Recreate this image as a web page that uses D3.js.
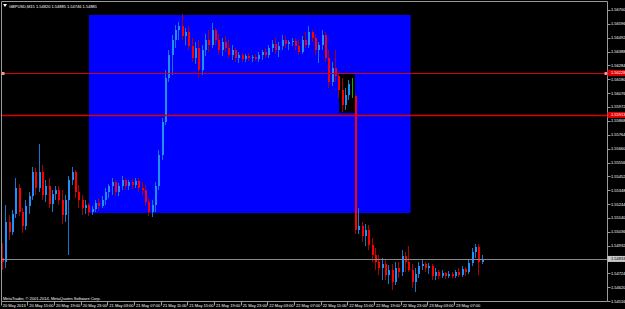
<!DOCTYPE html>
<html>
<head>
<meta charset="utf-8">
<script src="https://cdn.jsdelivr.net/npm/d3@7"></script>
<style>
  html, body { margin: 0; padding: 0; background: #000; }
  svg { display: block; font-family: "Liberation Sans", Arial, sans-serif; }
</style>
</head>
<body>
<svg id="chart" width="625" height="309"></svg>
<script>
// GBPUSD M15, candles merged to 30 min slots: [open, high, low, close]
const symbol = "GBPUSD,M15";
const headerQuote = ["1.54820", "1.54885", "1.54746", "1.54881"];
const copyright = "MetaTrader, \u00a9 2001-2014, MetaQuotes Software Corp.";

const ohlc = [
  [1.54840, 1.54953, 1.54750, 1.54810],
  [1.54810, 1.55238, 1.54765, 1.55110],
  [1.55110, 1.55163, 1.54975, 1.55035],
  [1.55035, 1.55200, 1.55013, 1.55170],
  [1.55170, 1.55440, 1.55140, 1.55365],
  [1.55365, 1.55395, 1.55155, 1.55185],
  [1.55185, 1.55215, 1.55028, 1.55080],
  [1.55080, 1.55275, 1.55050, 1.55230],
  [1.55230, 1.55335, 1.55170, 1.55305],
  [1.55305, 1.55523, 1.55275, 1.55485],
  [1.55485, 1.55515, 1.55313, 1.55365],
  [1.55365, 1.55698, 1.55335, 1.55485],
  [1.55485, 1.55538, 1.55275, 1.55313],
  [1.55313, 1.55425, 1.55260, 1.55380],
  [1.55380, 1.55440, 1.55215, 1.55245],
  [1.55245, 1.55350, 1.55185, 1.55320],
  [1.55320, 1.55380, 1.55275, 1.55350],
  [1.55350, 1.55380, 1.55238, 1.55275],
  [1.55275, 1.55350, 1.55095, 1.55163],
  [1.55163, 1.55313, 1.55110, 1.55275],
  [1.55275, 1.55455, 1.54863, 1.55425],
  [1.55425, 1.55523, 1.55388, 1.55485],
  [1.55485, 1.55500, 1.55290, 1.55335],
  [1.55335, 1.55388, 1.55215, 1.55275],
  [1.55275, 1.55313, 1.55163, 1.55215],
  [1.55215, 1.55275, 1.55170, 1.55238],
  [1.55238, 1.55253, 1.55155, 1.55185],
  [1.55185, 1.55230, 1.55163, 1.55208],
  [1.55208, 1.55275, 1.55185, 1.55253],
  [1.55253, 1.55290, 1.55200, 1.55230],
  [1.55230, 1.55305, 1.55215, 1.55275],
  [1.55275, 1.55365, 1.55238, 1.55335],
  [1.55335, 1.55395, 1.55290, 1.55380],
  [1.55380, 1.55440, 1.55313, 1.55410],
  [1.55410, 1.55425, 1.55305, 1.55335],
  [1.55335, 1.55403, 1.55305, 1.55380],
  [1.55380, 1.55455, 1.55350, 1.55425],
  [1.55425, 1.55440, 1.55350, 1.55380],
  [1.55380, 1.55425, 1.55350, 1.55410],
  [1.55410, 1.55433, 1.55358, 1.55388],
  [1.55388, 1.55440, 1.55365, 1.55418],
  [1.55418, 1.55440, 1.55335, 1.55365],
  [1.55365, 1.55410, 1.55313, 1.55350],
  [1.55350, 1.55388, 1.55230, 1.55260],
  [1.55260, 1.55290, 1.55155, 1.55185],
  [1.55185, 1.55275, 1.55148, 1.55238],
  [1.55238, 1.55410, 1.55185, 1.55380],
  [1.55380, 1.55650, 1.55350, 1.55613],
  [1.55613, 1.55890, 1.55575, 1.55860],
  [1.55860, 1.56250, 1.55838, 1.56190],
  [1.56190, 1.56400, 1.56160, 1.56363],
  [1.56363, 1.56513, 1.56213, 1.56475],
  [1.56475, 1.56588, 1.56415, 1.56550],
  [1.56550, 1.56610, 1.56475, 1.56580],
  [1.56580, 1.56670, 1.56475, 1.56505],
  [1.56505, 1.56565, 1.56438, 1.56535],
  [1.56535, 1.56580, 1.56400, 1.56430],
  [1.56430, 1.56490, 1.56310, 1.56340],
  [1.56340, 1.56460, 1.56295, 1.56415],
  [1.56415, 1.56475, 1.56190, 1.56250],
  [1.56250, 1.56438, 1.56213, 1.56400],
  [1.56400, 1.56520, 1.56355, 1.56475],
  [1.56475, 1.56550, 1.56385, 1.56438],
  [1.56438, 1.56603, 1.56415, 1.56550],
  [1.56550, 1.56565, 1.56438, 1.56475],
  [1.56475, 1.56520, 1.56363, 1.56400],
  [1.56400, 1.56490, 1.56355, 1.56460],
  [1.56460, 1.56505, 1.56385, 1.56415],
  [1.56415, 1.56475, 1.56340, 1.56363],
  [1.56363, 1.56438, 1.56325, 1.56400],
  [1.56400, 1.56415, 1.56310, 1.56340],
  [1.56340, 1.56385, 1.56303, 1.56363],
  [1.56363, 1.56378, 1.56310, 1.56333],
  [1.56333, 1.56370, 1.56310, 1.56355],
  [1.56355, 1.56378, 1.56318, 1.56340],
  [1.56340, 1.56363, 1.56310, 1.56348],
  [1.56348, 1.56370, 1.56318, 1.56333],
  [1.56333, 1.56385, 1.56310, 1.56363],
  [1.56363, 1.56400, 1.56325, 1.56385],
  [1.56385, 1.56415, 1.56340, 1.56363],
  [1.56363, 1.56438, 1.56340, 1.56415],
  [1.56415, 1.56475, 1.56385, 1.56445],
  [1.56445, 1.56490, 1.56370, 1.56400],
  [1.56400, 1.56460, 1.56348, 1.56430],
  [1.56430, 1.56513, 1.56400, 1.56475],
  [1.56475, 1.56505, 1.56415, 1.56445],
  [1.56445, 1.56475, 1.56400, 1.56460],
  [1.56460, 1.56490, 1.56430, 1.56468],
  [1.56468, 1.56490, 1.56400, 1.56430],
  [1.56430, 1.56475, 1.56363, 1.56385],
  [1.56385, 1.56505, 1.56370, 1.56475],
  [1.56475, 1.56535, 1.56415, 1.56438],
  [1.56438, 1.56580, 1.56415, 1.56535],
  [1.56535, 1.56550, 1.56460, 1.56490],
  [1.56490, 1.56520, 1.56363, 1.56400],
  [1.56400, 1.56460, 1.56303, 1.56438],
  [1.56438, 1.56550, 1.56400, 1.56513],
  [1.56513, 1.56535, 1.56310, 1.56340],
  [1.56340, 1.56400, 1.56115, 1.56160],
  [1.56160, 1.56310, 1.56130, 1.56265],
  [1.56265, 1.56400, 1.56160, 1.56205],
  [1.56205, 1.56220, 1.56040, 1.56100],
  [1.56100, 1.56190, 1.55935, 1.55988],
  [1.55988, 1.56115, 1.55950, 1.56063],
  [1.56063, 1.56175, 1.56025, 1.56145],
  [1.56145, 1.56190, 1.56040, 1.56055],
  [1.56055, 1.56070, 1.55020, 1.55050],
  [1.55050, 1.55215, 1.55020, 1.55080],
  [1.55080, 1.55110, 1.54960, 1.55005],
  [1.55005, 1.55095, 1.54930, 1.55050],
  [1.55050, 1.55088, 1.54900, 1.54938],
  [1.54938, 1.54990, 1.54810, 1.54863],
  [1.54863, 1.54915, 1.54750, 1.54810],
  [1.54810, 1.54863, 1.54713, 1.54765],
  [1.54765, 1.54840, 1.54675, 1.54795],
  [1.54795, 1.54825, 1.54675, 1.54713],
  [1.54713, 1.54788, 1.54645, 1.54750],
  [1.54750, 1.54795, 1.54600, 1.54660],
  [1.54660, 1.54810, 1.54638, 1.54765],
  [1.54765, 1.54810, 1.54690, 1.54735],
  [1.54735, 1.54900, 1.54705, 1.54855],
  [1.54855, 1.54885, 1.54735, 1.54810],
  [1.54810, 1.54930, 1.54735, 1.54750],
  [1.54750, 1.54795, 1.54615, 1.54660],
  [1.54660, 1.54765, 1.54585, 1.54720],
  [1.54720, 1.54810, 1.54690, 1.54780],
  [1.54780, 1.54825, 1.54750, 1.54795],
  [1.54795, 1.54810, 1.54735, 1.54765],
  [1.54765, 1.54803, 1.54720, 1.54780],
  [1.54780, 1.54795, 1.54675, 1.54705],
  [1.54705, 1.54765, 1.54675, 1.54735],
  [1.54735, 1.54750, 1.54683, 1.54705],
  [1.54705, 1.54750, 1.54690, 1.54728],
  [1.54728, 1.54735, 1.54683, 1.54705],
  [1.54705, 1.54743, 1.54690, 1.54720],
  [1.54720, 1.54735, 1.54690, 1.54705],
  [1.54705, 1.54750, 1.54690, 1.54735],
  [1.54735, 1.54765, 1.54698, 1.54713],
  [1.54713, 1.54780, 1.54698, 1.54758],
  [1.54758, 1.54773, 1.54705, 1.54735],
  [1.54735, 1.54825, 1.54720, 1.54803],
  [1.54803, 1.54915, 1.54780, 1.54885],
  [1.54885, 1.54945, 1.54840, 1.54923],
  [1.54923, 1.54945, 1.54713, 1.54810],
  [1.54810, 1.54863, 1.54795, 1.54833]
];
const greenBars = [105];

const priceTicks = [1.56700, 1.56596, 1.56492, 1.56388, 1.56284, 1.56180, 1.56076,
  1.55972, 1.55868, 1.55764, 1.55660, 1.55556, 1.55452, 1.55348, 1.55244,
  1.55140, 1.55036, 1.54932, 1.54724, 1.54620, 1.54516];

const timeLabels = ["20 May 2013", "20 May 15:00", "20 May 19:00", "20 May 23:00",
  "21 May 03:00", "21 May 07:00", "21 May 11:00", "21 May 15:00", "21 May 19:00",
  "21 May 23:00", "22 May 03:00", "22 May 07:00", "22 May 11:00", "22 May 15:00",
  "22 May 19:00", "22 May 23:00", "23 May 03:00", "23 May 07:00"];
const barsPerLabel = 8;

// chart objects (bar slot / price)
const levelLines = [1.56228, 1.55913];
const blueBox = { from: 26.5, to: 123, top: 1.56663, bottom: 1.55177 };
const darkBox = { from: 101.5, to: 106.3, top: 1.56228, bottom: 1.55928 };

const svg = d3.select("#chart");
const plot = { left: 1.5, top: 1.5, right: 607.5, bottom: 301.5 };

const x = d3.scaleLinear().domain([0, 182]).range([0.67, 607.3]);
const y = d3.scaleLinear().domain([1.54525, 1.56700]).range([300, 10]);
const fmt = d3.format(".5f");

svg.append("rect").attr("width", 625).attr("height", 309).attr("fill", "#000");

// background objects
[[blueBox, "#0000ff"], [darkBox, "#000000"]].forEach(([b, c]) => {
  svg.append("rect")
    .attr("x", x(b.from)).attr("y", y(b.top))
    .attr("width", x(b.to) - x(b.from))
    .attr("height", y(b.bottom) - y(b.top))
    .attr("fill", c);
});

// candles
const cg = svg.append("g").attr("shape-rendering", "crispEdges");
const cx = i => Math.floor(x(i + 0.5));
const isUp = d => d[3] >= d[0];
const colorOf = (d, i, part) => {
  if (greenBars.includes(i)) return "#00b400";
  if (isUp(d)) return part === "wick" ? "#1874cd" : "#1e90ff";
  return part === "wick" ? "#b00000" : "#ff0000";
};

cg.selectAll("line.wick").data(ohlc).join("line")
  .attr("class", "wick")
  .attr("x1", (d, i) => cx(i) + 0.5).attr("x2", (d, i) => cx(i) + 0.5)
  .attr("y1", d => y(d[1])).attr("y2", d => y(d[2]))
  .attr("stroke", (d, i) => colorOf(d, i, "wick"))
  .attr("stroke-width", 1);

cg.selectAll("rect.body").data(ohlc).join("rect")
  .attr("class", "body")
  .attr("x", (d, i) => cx(i))
  .attr("y", d => y(Math.max(d[0], d[3])))
  .attr("width", (d, i) => greenBars.includes(i) ? 1 : 2)
  .attr("height", d => Math.max(1, Math.abs(y(d[0]) - y(d[3]))))
  .attr("fill", (d, i) => colorOf(d, i, "body"));

// horizontal level lines
svg.selectAll("line.level").data(levelLines).join("line")
  .attr("class", "level")
  .attr("x1", plot.left).attr("x2", plot.right)
  .attr("y1", d => Math.round(y(d)) + 0.5).attr("y2", d => Math.round(y(d)) + 0.5)
  .attr("stroke", "#dc0000").attr("stroke-width", (d, i) => i === 1 ? 1.4 : 1);

// selection markers on the first level
svg.selectAll("rect.marker").data([plot.left, plot.right - 3]).join("rect")
  .attr("class", "marker")
  .attr("x", d => d).attr("y", Math.round(y(levelLines[0])) - 1)
  .attr("width", 3).attr("height", 3).attr("fill", "#ff9090");

// bid line
const last = ohlc[ohlc.length - 1][3];
svg.append("line")
  .attr("x1", plot.left).attr("x2", plot.right)
  .attr("y1", Math.round(y(last)) + 0.5).attr("y2", Math.round(y(last)) + 0.5)
  .attr("stroke", "#8a8a8a").attr("stroke-width", 1);

// frame
svg.append("path")
  .attr("d", `M${plot.left},${plot.bottom}V${plot.top}H${plot.right}V${plot.bottom}H${plot.left}`)
  .attr("fill", "none").attr("stroke", "#9a9a9a").attr("stroke-width", 1);

// price axis
const ya = svg.append("g").attr("font-size", 4).attr("fill", "#fff");
ya.selectAll("line").data(priceTicks).join("line")
  .attr("x1", plot.right).attr("x2", plot.right + 3)
  .attr("y1", d => Math.round(y(d)) + 0.5).attr("y2", d => Math.round(y(d)) + 0.5)
  .attr("stroke", "#9a9a9a");
ya.selectAll("text").data(priceTicks).join("text")
  .attr("x", 611).attr("y", d => y(d)).attr("dy", "0.35em")
  .text(d => fmt(d));

// price labels for level lines and bid
const tags = levelLines.map(v => ({ v, bg: "#e00000", fg: "#fff" }))
  .concat([{ v: last, bg: "#c8c8c8", fg: "#000" }]);
const tg = svg.append("g").attr("font-size", 4);
tg.selectAll("rect").data(tags).join("rect")
  .attr("x", plot.right).attr("y", d => y(d.v) - 3)
  .attr("width", 625 - plot.right).attr("height", 6)
  .attr("fill", d => d.bg);
tg.selectAll("text").data(tags).join("text")
  .attr("x", 611).attr("y", d => y(d.v)).attr("dy", "0.35em")
  .attr("fill", d => d.fg)
  .text(d => fmt(d.v));

// time axis
const xa = svg.append("g").attr("font-size", 4).attr("fill", "#fff");
xa.selectAll("line").data(timeLabels).join("line")
  .attr("x1", (d, i) => Math.round(x(i * barsPerLabel)) + 0.5)
  .attr("x2", (d, i) => Math.round(x(i * barsPerLabel)) + 0.5)
  .attr("y1", plot.bottom).attr("y2", plot.bottom + 4)
  .attr("stroke", "#9a9a9a");
xa.selectAll("text").data(timeLabels).join("text")
  .attr("x", (d, i) => x(i * barsPerLabel) + 2)
  .attr("y", 306.5)
  .text(d => d);

// header and footer text
svg.append("path").attr("d", "M3,4L7,4L5,7Z").attr("fill", "#fff");
svg.append("text")
  .attr("x", 9).attr("y", 7.5).attr("font-size", 4).attr("fill", "#fff")
  .text(symbol + "  " + headerQuote.join(" "));
svg.append("text")
  .attr("x", 3).attr("y", 299.5).attr("font-size", 4).attr("fill", "#fff")
  .text(copyright);
</script>
</body>
</html>
